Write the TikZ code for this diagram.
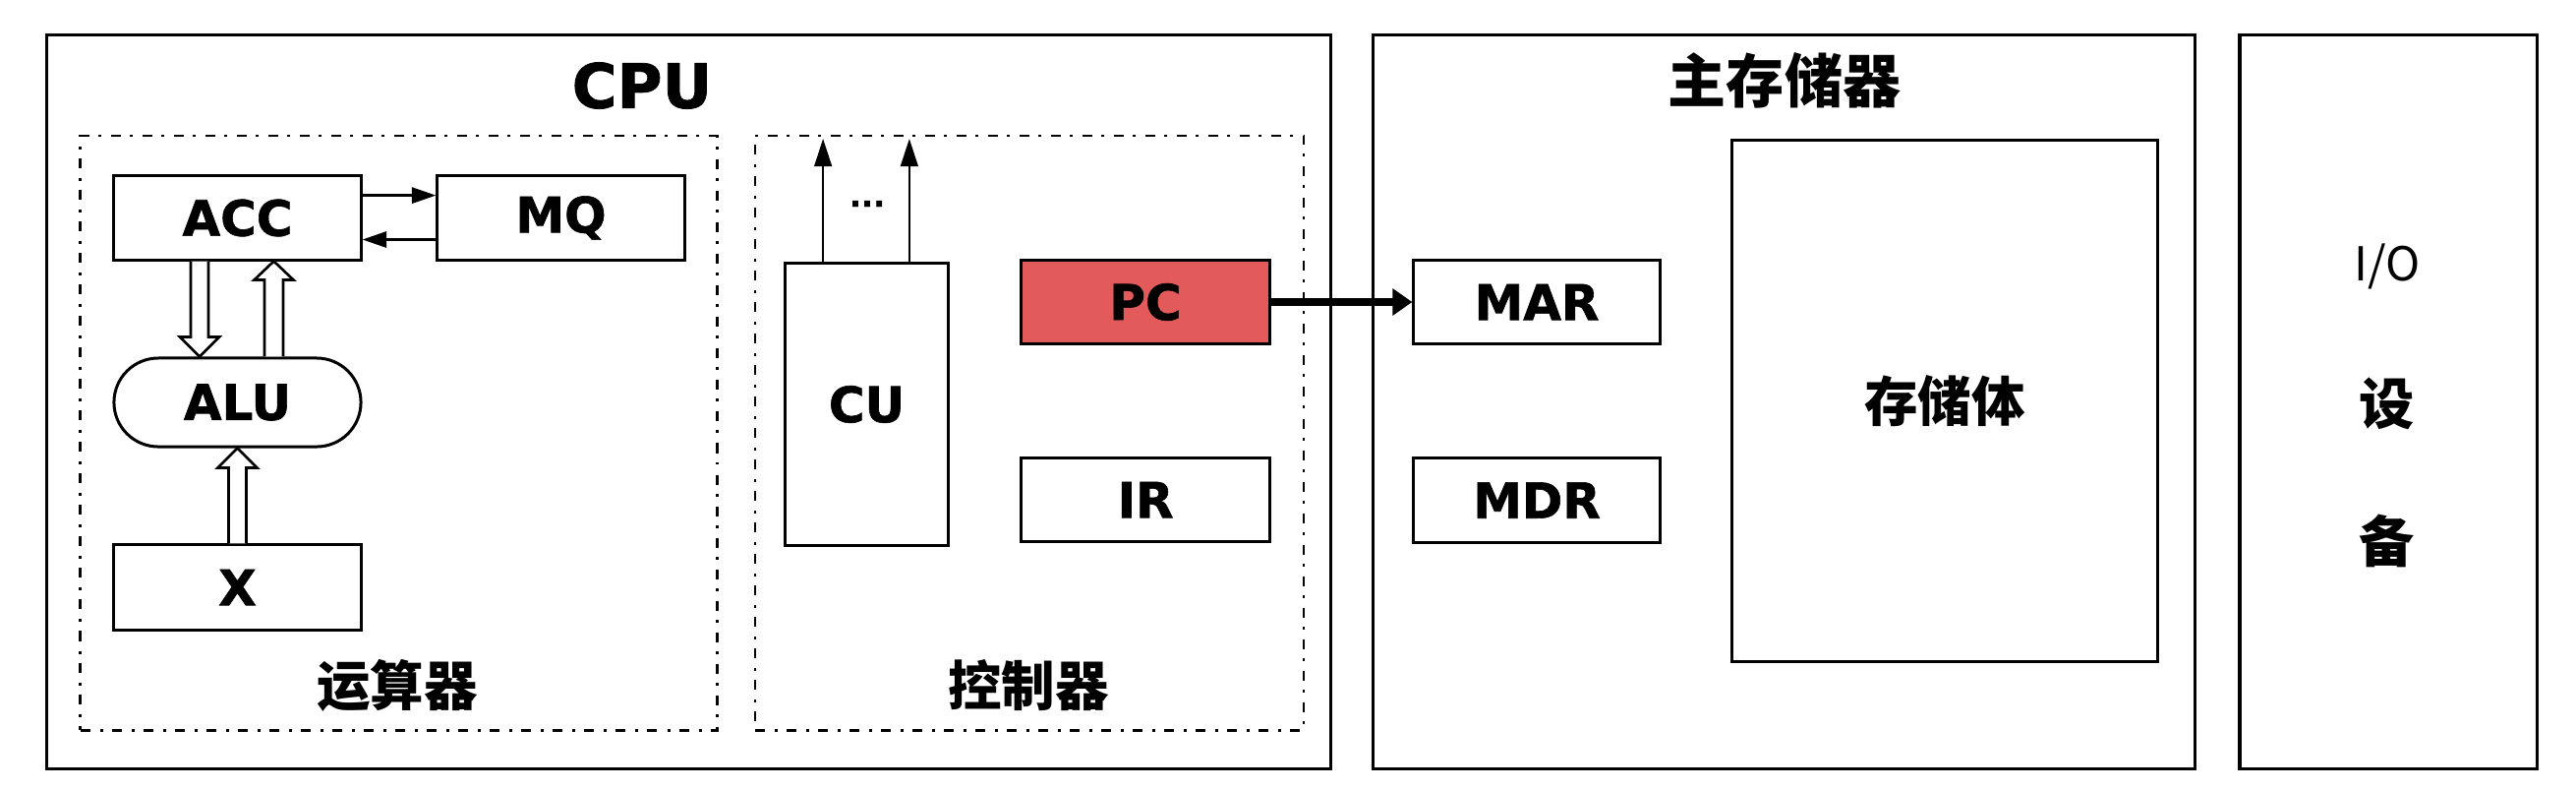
\documentclass[tikz,border=0pt]{standalone}
\usepackage{fontspec}
\setmainfont{Noto Sans CJK SC}
\newfontfamily\latfont{DejaVu Sans}[BoldFeatures={FakeBold=1.2}]
\usetikzlibrary{arrows.meta,calc}
\definecolor{pcred}{HTML}{E35A5A}
\tikzset{
  outerbox/.style={draw, line width=0.9pt, inner sep=0pt},
  grp/.style={draw, line width=0.75pt, inner sep=0pt, dash pattern=on 2.85pt off 2.85pt on 0.85pt off 2.56pt},
  reg/.style={draw, line width=0.85pt, inner sep=0pt, minimum width=2.51cm, minimum height=0.85cm, font=\latfont\bfseries\fontsize{14.2}{14.2}\selectfont},
  lbl/.style={inner sep=0pt, font=\bfseries\fontsize{15.5}{15.5}\selectfont},
  hollow/.style={draw, line width=0.75pt, fill=white, line join=miter},
  thin/.style={line width=0.75pt, -{Triangle[length=7pt,width=4.6pt]}},
  ctl/.style={line width=0.75pt, -{Triangle[length=8pt,width=5pt]}},
  bus/.style={line width=2.3pt, -{Triangle[length=5.7pt,width=7.5pt]}},
}
\begin{document}
\begin{tikzpicture}[x=0.01cm,y=-0.01cm]
\useasboundingbox (0,0) rectangle (2620,802);
% outer boxes
\node[outerbox, minimum width=13.05cm, minimum height=7.45cm] (cpu) at (700.5,408.5) {};
\node[outerbox, minimum width=8.35cm, minimum height=7.45cm] (mem) at (1814.5,408.5) {};
\node[outerbox, minimum width=3.02cm, minimum height=7.45cm] (io) at (2429,408.5) {};
\node[inner sep=0pt, font=\latfont\bfseries\fontsize{17.8}{17.8}\selectfont] (cputitle) at (653,87) {CPU};
\node[inner sep=0pt, font=\bfseries\fontsize{16.8}{16.8}\selectfont] (memtitle) at (1815,82) {主存储器};
% groups
\node[grp, minimum width=6.47cm, minimum height=6.04cm] (alugrp) at (405.5,440) {};
\node[grp, minimum width=5.58cm, minimum height=6.04cm] (cugrp) at (1047,440) {};
\node[lbl] (alulbl) at (404,697) {运算器};
\node[lbl] (culbl) at (1046,697) {控制器};
% ALU part
\node[reg] (acc) at (241.5,221.5) {ACC};
\node[reg] (mq) at (570.5,221.5) {MQ};
\node[reg, minimum height=0.90cm, rounded corners=0.45cm] (alu) at (241.5,409) {ALU};
\node[reg, minimum height=0.86cm] (x) at (241.5,597) {X};
\draw[thin] ($(acc.north east)!0.24!(acc.south east)$) -- ($(mq.north west)!0.24!(mq.south west)$);
\draw[thin] ($(mq.north west)!0.75!(mq.south west)$) -- ($(acc.north east)!0.75!(acc.south east)$);
% hollow arrows
\coordinate (d1) at ($(acc.south)+(-38.5,0)$);
\coordinate (d1t) at (d1 |- alu.north);
\draw[hollow] ($(d1)+(-9,0)$) -- ($(d1t)+(-9,-20)$) -- ($(d1t)+(-20,-20)$) -- (d1t) -- ($(d1t)+(20,-20)$) -- ($(d1t)+(9,-20)$) -- ($(d1)+(9,0)$);
\coordinate (u1) at ($(alu.north)+(37,0)$);
\coordinate (u1t) at (u1 |- acc.south);
\draw[hollow] ($(u1)+(-9.5,0)$) -- ($(u1t)+(-9.5,19)$) -- ($(u1t)+(-20,19)$) -- (u1t) -- ($(u1t)+(20,19)$) -- ($(u1t)+(9.5,19)$) -- ($(u1)+(9.5,0)$);
\coordinate (u2) at (x.north);
\coordinate (u2t) at (alu.south);
\draw[hollow] ($(u2)+(-9,0)$) -- ($(u2t)+(-9,20)$) -- ($(u2t)+(-20,20)$) -- (u2t) -- ($(u2t)+(20,20)$) -- ($(u2t)+(9,20)$) -- ($(u2)+(9,0)$);
% control part
\node[reg, minimum width=1.65cm, minimum height=2.86cm] (cu) at (881.5,411) {CU};
\node[reg, fill=pcred, minimum width=2.52cm, minimum height=0.84cm] (pc) at (1165,307) {PC};
\node[reg, minimum width=2.52cm, minimum height=0.84cm] (ir) at (1165,508) {IR};
\coordinate (c1) at ($(cu.north west)!0.236!(cu.north east)$);
\coordinate (c2) at ($(cu.north west)!0.758!(cu.north east)$);
\coordinate (c1e) at ($(c1)+(0,-125.5)$);
\coordinate (c2e) at ($(c2)+(0,-125.5)$);
\draw[ctl] (c1) -- (c1e);
\draw[ctl] (c2) -- (c2e);
\node[inner sep=0pt, font=\latfont\bfseries\fontsize{9}{9}\selectfont] (dots) at (882,207) {...};
% memory part
\node[reg, minimum width=2.50cm, minimum height=0.84cm] (mar) at (1563,307) {MAR};
\node[reg, minimum width=2.50cm, minimum height=0.85cm] (mdr) at (1563,508.5) {MDR};
\node[reg, minimum width=4.32cm, minimum height=5.29cm, font=\bfseries\fontsize{15.5}{15.5}\selectfont] (body) at (1978,407.5) {存储体};
\draw[bus] (pc.east) -- (mar.west);
% IO
\node[inner sep=0pt, font=\fontsize{13.5}{13.5}\selectfont] (io1) at (2428,271) {I/O};
\node[lbl, font=\bfseries\fontsize{16}{16}\selectfont] (io2) at (2428,410) {设};
\node[lbl, font=\bfseries\fontsize{16}{16}\selectfont] (io3) at (2428,550) {备};
\end{tikzpicture}
\end{document}
